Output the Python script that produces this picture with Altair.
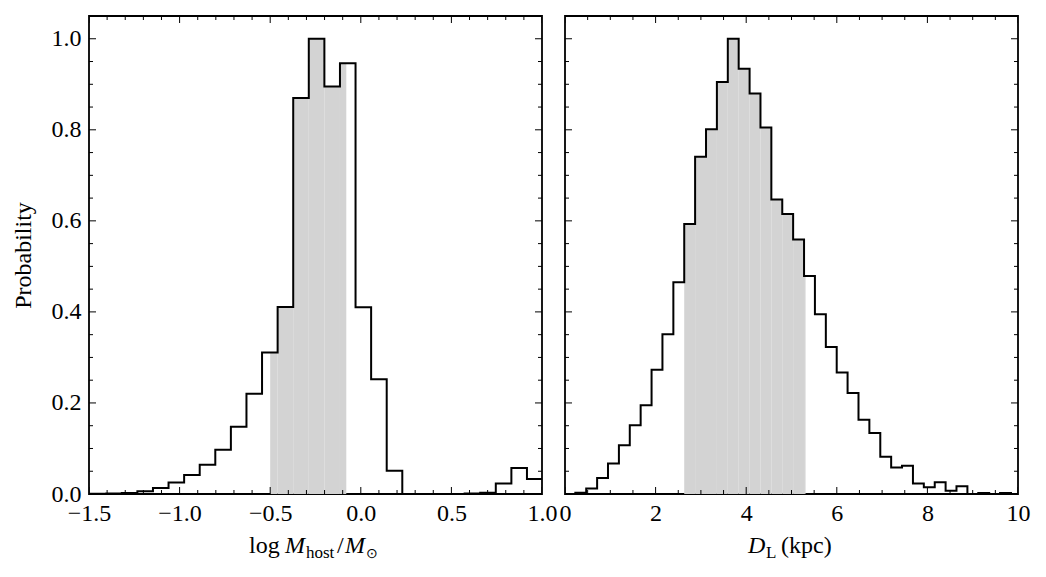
import altair as alt
import pandas as pd

FONT = "Liberation Serif"
FS = 24

# ---- Left panel: log host mass ----
mass_edges = [-1.491, -1.405, -1.319, -1.233, -1.147, -1.061, -0.975, -0.889, -0.803,
              -0.717, -0.631, -0.545, -0.459, -0.373, -0.287, -0.201, -0.115, -0.029,
              0.057, 0.143, 0.229, 0.315, 0.401, 0.487, 0.573, 0.659, 0.745, 0.831,
              0.917, 1.003]
mass_prob = [0.0005, 0.001, 0.002, 0.006, 0.013, 0.025, 0.042, 0.064, 0.097, 0.148,
             0.220, 0.311, 0.411, 0.870, 1.000, 0.895, 0.946, 0.410, 0.252, 0.051,
             0.0, 0.0, 0.0, 0.0, 0.001, 0.003, 0.023, 0.057, 0.033]
mass_interval = [-0.50, -0.08]
mass_major = [-1.5, -1.0, -0.5, 0.0, 0.5, 1.0]
mass_minor = [round(-1.5 + 0.1 * i, 2) for i in range(26)]

# ---- Right panel: lens distance ----
dist_edges = [0.228, 0.468, 0.709, 0.949, 1.190, 1.430, 1.670, 1.911, 2.151, 2.392,
              2.632, 2.872, 3.113, 3.353, 3.594, 3.834, 4.075, 4.315, 4.555, 4.796,
              5.036, 5.277, 5.517, 5.758, 5.998, 6.238, 6.479, 6.719, 6.960, 7.200,
              7.440, 7.681, 7.921, 8.162, 8.402, 8.642, 8.883, 9.123, 9.364, 9.604,
              9.845, 10.085]
dist_prob = [0.003, 0.012, 0.035, 0.067, 0.107, 0.151, 0.195, 0.273, 0.351, 0.465,
             0.593, 0.741, 0.801, 0.905, 1.000, 0.934, 0.880, 0.805, 0.647, 0.615,
             0.559, 0.479, 0.395, 0.323, 0.267, 0.222, 0.163, 0.134, 0.082, 0.058,
             0.062, 0.023, 0.015, 0.026, 0.007, 0.017, 0.0, 0.002, 0.0, 0.002, 0.0]
dist_interval = [2.63, 5.31]
dist_major = [0, 2, 4, 6, 8, 10]
dist_minor = [0.5 * i for i in range(21)]

prob_major = [0.0, 0.2, 0.4, 0.6, 0.8, 1.0]
prob_minor = [round(0.05 * i, 2) for i in range(22)]

W, H = 453, 478
MAJ, MIN = 7, 4


def step_df(edges, probs):
    xs = [edges[0]] + list(edges[:-1]) + [edges[-1]]
    ys = [0.0] + list(probs) + [probs[-1]]
    return pd.DataFrame({"x": xs, "p": ys, "i": list(range(len(xs)))})


def shade_df(edges, probs, lo, hi):
    rows = []
    for a, b, p in zip(edges[:-1], edges[1:], probs):
        l, r = max(a, lo), min(b, hi)
        if r > l:
            rows.append({"x": l, "x1": r, "p": p, "base": 0.0})
    return pd.DataFrame(rows)


def text_layer(txt, x, y, size=FS, style="normal"):
    return alt.Chart(pd.DataFrame({"a": [0]})).mark_text(
        text=txt, font=FONT, fontSize=size, fontStyle=style, color="black",
        align="left", baseline="alphabetic"
    ).encode(x=alt.value(x), y=alt.value(y))


def panel(edges, probs, interval, xdom, xmajor, xminor, xfmt, show_y, pieces):
    xs = alt.Scale(domain=xdom, nice=False, zero=False)
    ys = alt.Scale(domain=[0, 1.05], nice=False, zero=False)
    xaxis = alt.Axis(values=xmajor, format=xfmt, ticks=False, domain=False, grid=False,
                     labelFlush=False, labelOverlap=False, labelPadding=7,
                     labelFont=FONT, labelFontSize=FS, labelColor="black", title=None)
    if show_y:
        yaxis = alt.Axis(values=prob_major, format=".1f", ticks=False, domain=False,
                         grid=False, labelFlush=False, labelOverlap=False, labelPadding=8,
                         labelFont=FONT, labelFontSize=FS, labelColor="black",
                         title="Probability", titleFont=FONT, titleFontSize=FS,
                         titleFontWeight="normal", titleColor="black", titlePadding=16)
    else:
        yaxis = alt.Axis(labels=False, ticks=False, domain=False, grid=False, title=None)

    shade = alt.Chart(shade_df(edges, probs, *interval)).mark_rect(
        color="#d3d3d3", clip=True
    ).encode(
        x=alt.X("x:Q", scale=xs, axis=xaxis), x2="x1:Q",
        y=alt.Y("p:Q", scale=ys, axis=yaxis), y2="base:Q",
    )
    line = alt.Chart(step_df(edges, probs)).mark_line(
        color="black", strokeWidth=2, interpolate="step-after", clip=True
    ).encode(
        x=alt.X("x:Q", scale=xs, axis=xaxis),
        y=alt.Y("p:Q", scale=ys, axis=yaxis),
        order=alt.Order("i:Q"),
    )
    layers = [shade, line]

    xmin = [v for v in xminor if v not in xmajor]
    ymin = [v for v in prob_minor if v not in prob_major]
    for vals, ln in [(xmajor, MAJ), (xmin, MIN)]:
        d = pd.DataFrame({"x": vals})
        for y1, y2 in [(H, H - ln), (0, ln)]:
            layers.append(alt.Chart(d).mark_rule(color="black", strokeWidth=1, clip=True).encode(
                x=alt.X("x:Q", scale=xs, axis=xaxis), y=alt.value(y1), y2=alt.value(y2)))
    for vals, ln in [(prob_major, MAJ), (ymin, MIN)]:
        d = pd.DataFrame({"p": vals})
        for x1, x2 in [(0, ln), (W, W - ln)]:
            layers.append(alt.Chart(d).mark_rule(color="black", strokeWidth=1, clip=True).encode(
                y=alt.Y("p:Q", scale=ys, axis=yaxis), x=alt.value(x1), x2=alt.value(x2)))
    for p in pieces:
        layers.append(text_layer(*p))
    return alt.layer(*layers).properties(width=W, height=H)


BASE = 537
left_pieces = [
    ("log", 160, BASE),
    ("M", 196, BASE, FS, "italic"),
    ("host", 217, BASE + 5, 17),
    ("/", 248, BASE),
    ("M", 256, BASE, FS, "italic"),
    ("\u2299", 277, BASE + 5, 14),
]
right_pieces = [
    ("D", 183, BASE, FS, "italic"),
    ("L", 201, BASE + 5, 17),
    ("(kpc)", 216, BASE),
]

left = panel(mass_edges, mass_prob, mass_interval, [-1.5, 1.0], mass_major, mass_minor,
             ".1f", True, left_pieces)
right = panel(dist_edges, dist_prob, dist_interval, [0, 10], dist_major, dist_minor,
              "d", False, right_pieces)

chart = alt.hconcat(left, right, spacing=23, bounds="flush").configure_view(
    stroke="black", strokeWidth=1.8
).configure_axis(
    labelFont=FONT, titleFont=FONT
).configure_text(
    font=FONT
).properties(
    padding={"left": 10, "top": 15, "right": 5, "bottom": 5},
    background="white",
)

chart.save("out.html", embed_options={"renderer": "svg", "actions": False})
